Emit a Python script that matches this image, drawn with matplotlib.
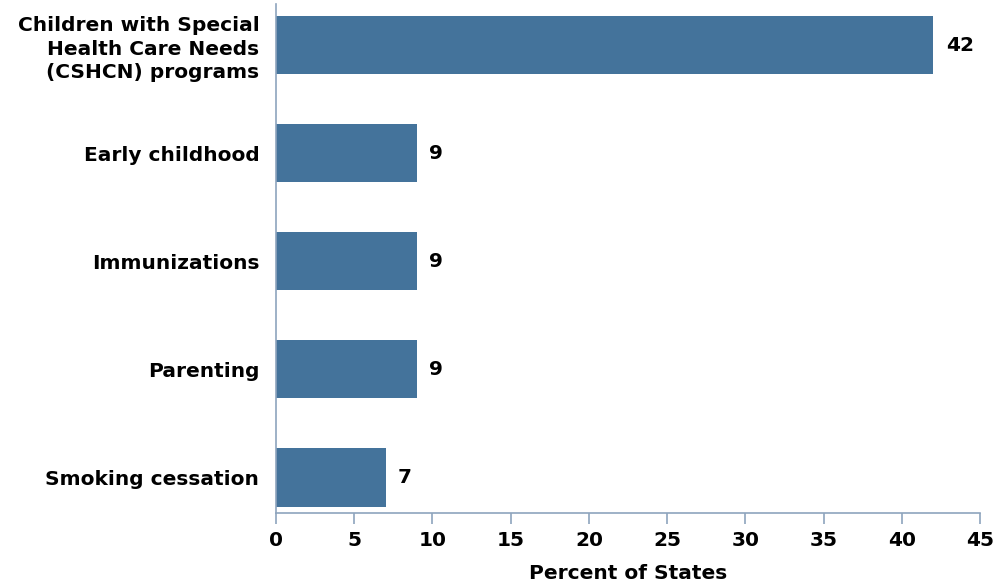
import matplotlib.pyplot as plt

# Program areas and percent of states
categories = [
    "Children with Special\nHealth Care Needs\n(CSHCN) programs",
    "Early childhood",
    "Immunizations",
    "Parenting",
    "Smoking cessation",
]
values = [42, 9, 9, 9, 7]
xticks = [0, 5, 10, 15, 20, 25, 30, 35, 40, 45]

bar_color = "#44739b"
axis_color = "#8ea4bd"
fs = 14.5

plt.rcParams["font.family"] = ["DejaVu Sans"]
plt.rcParams["font.weight"] = "bold"

fig = plt.figure(figsize=(9.95, 5.84), dpi=100)
ax = fig.add_axes([0.2774, 0.1216, 0.7076, 0.8714])

ypos = list(range(len(categories)))
ax.barh(ypos, values, height=0.54, color=bar_color)

for y, v in zip(ypos, values):
    ax.text(v + 0.8, y, str(v), va="center", ha="left",
            fontsize=fs, fontweight="bold")

ax.set_xlim(0, 45)
ax.set_ylim(4.33, -0.38)
ax.set_xticks(xticks)
ax.set_yticks(ypos)
ax.set_yticklabels(categories, fontsize=fs, fontweight="bold",
                   multialignment="right", linespacing=1.3)
ax.tick_params(axis="y", length=0, pad=12)
ax.tick_params(axis="x", length=8, width=1.2, color=axis_color,
               labelsize=fs, pad=5)

for side in ["top", "right"]:
    ax.spines[side].set_visible(False)
for side in ["left", "bottom"]:
    ax.spines[side].set_color(axis_color)
    ax.spines[side].set_linewidth(1.2)

ax.set_xlabel("Percent of States", fontsize=fs, fontweight="bold",
              labelpad=10)

fig.savefig("out.png", dpi=100)
